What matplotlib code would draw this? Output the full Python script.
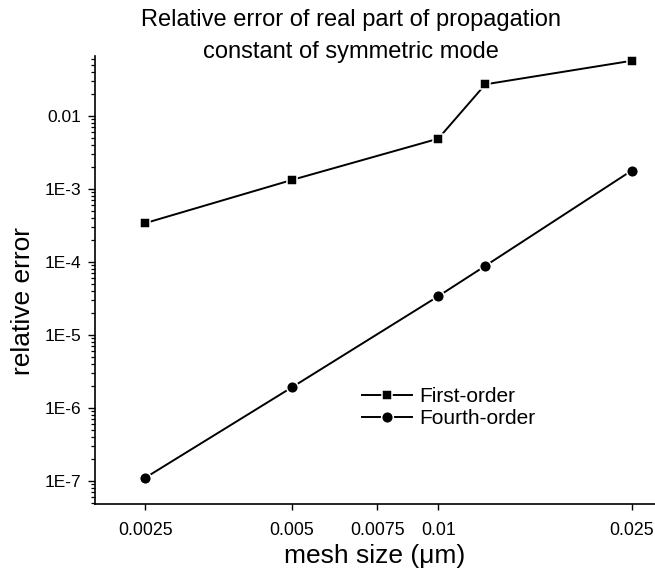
import numpy as np
import matplotlib.pyplot as plt
from matplotlib.ticker import FixedLocator, FixedFormatter, LogLocator, NullLocator, NullFormatter

plt.rcParams['font.family'] = ['Liberation Sans', 'DejaVu Sans']

# mesh sizes (um) and relative errors of Re(beta), symmetric mode
mesh = [0.0025, 0.005, 0.01, 0.0125, 0.025]
err_first = [3.39e-4, 1.32e-3, 4.86e-3, 2.70e-2, 5.68e-2]
err_fourth = [1.10e-7, 1.90e-6, 3.37e-5, 8.80e-5, 1.78e-3]

xticks = [0.0025, 0.005, 0.0075, 0.01, 0.025]
xtick_labels = ['0.0025', '0.005', '0.0075', '0.01', '0.025']
yticks = [1e-7, 1e-6, 1e-5, 1e-4, 1e-3, 1e-2]
ytick_labels = ['1E-7', '1E-6', '1E-5', '1E-4', '1E-3', '0.01']

W, H = 655, 575
fig = plt.figure(figsize=(W / 100, H / 100), dpi=100)
ax = fig.add_axes([95 / W, 1 - 504 / H, (W - 95) / W, (504 - 56) / H])

line_kw = dict(color='black', lw=1.4, markeredgecolor='white', markeredgewidth=1.1)
ax.plot(mesh, err_first, marker='s', ms=7.3, label='First-order', **line_kw)
ax.plot(mesh, err_fourth, marker='o', ms=8.4, label='Fourth-order', **line_kw)

ax.set_xscale('log')
ax.set_yscale('log')
ax.set_xlim(0.00197, 0.0279)
ax.set_ylim(4.8e-8, 0.066)

ax.xaxis.set_major_locator(FixedLocator(xticks))
ax.xaxis.set_major_formatter(FixedFormatter(xtick_labels))
ax.xaxis.set_minor_locator(NullLocator())
ax.xaxis.set_minor_formatter(NullFormatter())
ax.yaxis.set_major_locator(FixedLocator(yticks))
ax.yaxis.set_major_formatter(FixedFormatter(ytick_labels))
ax.yaxis.set_minor_locator(LogLocator(base=10, subs=np.arange(2, 10)))
ax.yaxis.set_minor_formatter(NullFormatter())

for s in ['top', 'right']:
    ax.spines[s].set_visible(False)
for s in ['left', 'bottom']:
    ax.spines[s].set_linewidth(1.2)

ax.tick_params(axis='x', which='major', direction='out', length=4, width=1.0,
               pad=9, labelsize=12.8)
ax.tick_params(axis='y', which='major', direction='out', length=5, width=1.0,
               pad=5, labelsize=12.5)
ax.tick_params(axis='y', which='minor', direction='out', length=2.8, width=0.9)

ax.set_xlabel('mesh size (\u03bcm)', fontsize=19)
ax.xaxis.set_label_coords(0.5, -0.116)
ax.xaxis.label.set_va('center')
ax.set_ylabel('relative error', fontsize=19)
ax.yaxis.set_label_coords(-0.129, 0.453)
ax.yaxis.label.set_va('center')

fig.text(351 / W, 1 - 36 / H,
         'Relative error of real part of propagation\nconstant of symmetric mode',
         ha='center', va='center', fontsize=17, linespacing=1.55)

ax.legend(loc='center left', bbox_to_anchor=(361.7 / W, 1 - 407.7 / H),
          bbox_transform=fig.transFigure, frameon=False, fontsize=15,
          handlelength=2.4, handletextpad=0.35, labelspacing=0.15,
          borderpad=0, borderaxespad=0, numpoints=1)

fig.savefig('out.png', dpi=100)
